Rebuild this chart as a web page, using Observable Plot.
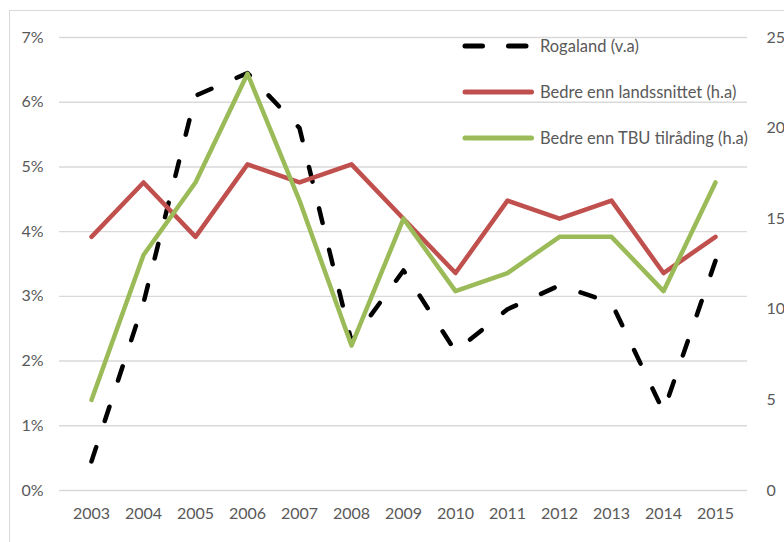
<!DOCTYPE html>
<html>
<head>
<meta charset="utf-8">
<script src="https://cdn.jsdelivr.net/npm/d3@7"></script>
<script src="https://cdn.jsdelivr.net/npm/@observablehq/plot@0.6"></script>
<style>
  html, body { margin: 0; padding: 0; background: #fff; overflow: hidden; }
  #wrap { position: relative; width: 784px; height: 542px; overflow: hidden; font-family: Lato, "Open Sans", sans-serif; }
  #frame { position: absolute; left: 9px; top: 10px; width: 900px; height: 700px; border: 1px solid #d9d9d9; box-sizing: border-box; }
  #chart { position: absolute; left: 0; top: 0; }
  .leg { position: absolute; left: 460px; height: 20px; display: flex; align-items: center; font-size: 16.5px; color: #595959; white-space: nowrap; }
  .leg svg { margin-right: 4px; }
</style>
</head>
<body>
<div id="wrap">
  <div id="frame"></div>
  <div id="chart"></div>
  <div id="legend"></div>
</div>
<script>
// ---- data ----
const years = ["2003","2004","2005","2006","2007","2008","2009","2010","2011","2012","2013","2014","2015"];
const rogaland = [0.45, 2.9, 6.1, 6.45, 5.6, 2.3, 3.4, 2.15, 2.8, 3.17, 2.9, 1.22, 3.55]; // %, venstre akse
const landssnittet = [14, 17, 14, 18, 17, 18, 15, 12, 16, 15, 16, 12, 14]; // høgre akse
const tbu = [5, 13, 17, 23, 16, 8, 15, 11, 12, 14, 14, 11, 17]; // høgre akse
const leftTicks = [0, 1, 2, 3, 4, 5, 6, 7];
const rightTicks = [0, 5, 10, 15, 20, 25];
const seriesNames = ["Rogaland (v.a)", "Bedre enn landssnittet (h.a)", "Bedre enn TBU tilråding (h.a)"];
const colors = ["#000000", "#C0504D", "#9BBB59"];

const leftMax = 7, rightMax = 25;
const toLeft = v => v * leftMax / rightMax;

const rows = (vals, conv) => years.map((y, i) => ({year: y, value: conv ? conv(vals[i]) : vals[i]}));
const dRog = rows(rogaland);
const dLand = rows(landssnittet, toLeft);
const dTbu = rows(tbu, toLeft);

const chart = Plot.plot({
  width: 784,
  height: 542,
  marginTop: 37,
  marginBottom: 52,
  marginLeft: 59,
  marginRight: 37,
  style: {fontFamily: "Lato, 'Open Sans', sans-serif", fontSize: "16px", color: "#595959", background: "transparent", overflow: "visible"},
  x: {type: "point", domain: years, padding: 0.5, axis: null, label: null},
  y: {domain: [0, leftMax], axis: null, label: null},
  marks: [
    Plot.gridY(leftTicks, {stroke: "#d9d9d9", strokeOpacity: 1, strokeWidth: 1.4}),
    Plot.axisX({tickSize: 0, tickPadding: 17, fill: "#595959", label: null}),
    Plot.axisY(leftTicks, {anchor: "left", tickSize: 0, tickPadding: 16, tickFormat: d => d + "%", fill: "#595959", label: null}),
    Plot.axisY(rightTicks.map(toLeft), {anchor: "right", tickSize: 0, tickPadding: 19, tickFormat: d => String(Math.round(d * rightMax / leftMax)), fill: "#595959", label: null}),
    Plot.line(dRog, {x: "year", y: "value", stroke: colors[0], strokeWidth: 4.5, strokeDasharray: "15,27", strokeLinecap: "round", strokeLinejoin: "round"}),
    Plot.line(dLand, {x: "year", y: "value", stroke: colors[1], strokeWidth: 4.5, strokeLinecap: "round", strokeLinejoin: "round"}),
    Plot.line(dTbu, {x: "year", y: "value", stroke: colors[2], strokeWidth: 4.5, strokeLinecap: "round", strokeLinejoin: "round"})
  ]
});
document.getElementById("chart").appendChild(chart);

// fit the dash pattern so a dash starts at the first and ends at the last point
const dashedPath = chart.querySelector("g[stroke-dasharray] path, g[aria-label='line'] path");
if (dashedPath && dashedPath.getTotalLength) {
  const L = dashedPath.getTotalLength();
  const dash = 15;
  const n = Math.max(1, Math.round((L - dash) / 42));
  const period = (L - dash) / n;
  dashedPath.parentNode.setAttribute("stroke-dasharray", dash + "," + (period - dash).toFixed(3));
}

// ---- legend ----
const legend = document.getElementById("legend");
const rowTops = [36, 82, 128];
seriesNames.forEach((name, i) => {
  const row = document.createElement("div");
  row.className = "leg";
  row.style.top = rowTops[i] + "px";
  const ns = "http://www.w3.org/2000/svg";
  const svg = document.createElementNS(ns, "svg");
  svg.setAttribute("width", "76");
  svg.setAttribute("height", "20");
  const line = document.createElementNS(ns, "line");
  line.setAttribute("x1", "5");
  line.setAttribute("x2", i === 0 ? "66" : "71.5");
  line.setAttribute("y1", "10");
  line.setAttribute("y2", "10");
  line.setAttribute("stroke", colors[i]);
  line.setAttribute("stroke-width", "5");
  line.setAttribute("stroke-linecap", "round");
  if (i === 0) line.setAttribute("stroke-dasharray", "17.5,26");
  svg.appendChild(line);
  row.appendChild(svg);
  const span = document.createElement("span");
  span.textContent = name;
  row.appendChild(span);
  legend.appendChild(row);
});
</script>
</body>
</html>
